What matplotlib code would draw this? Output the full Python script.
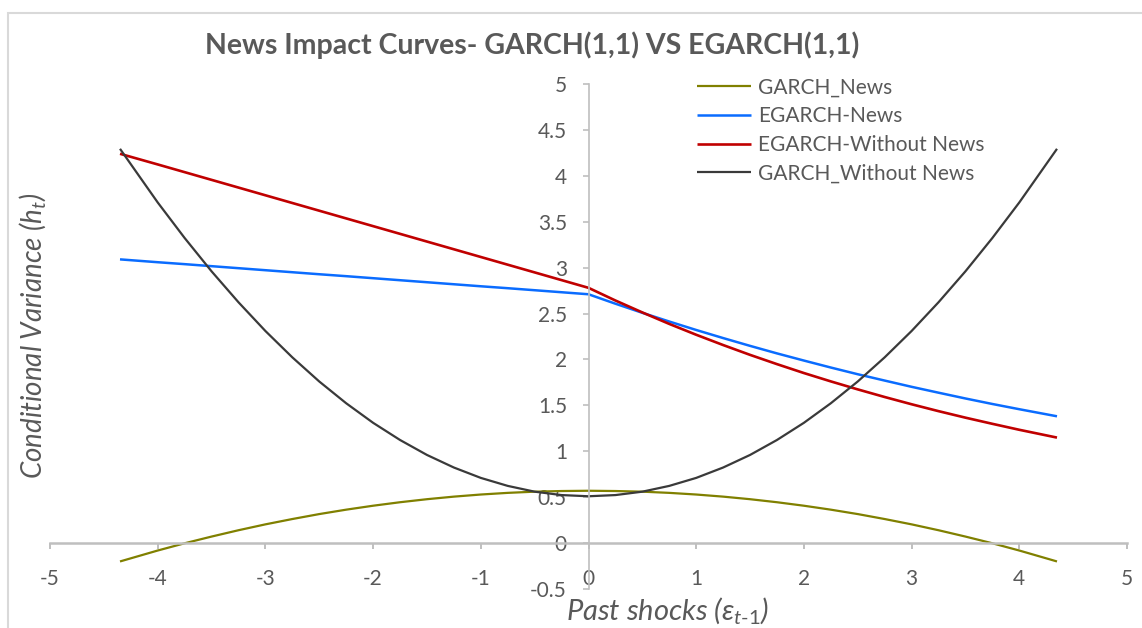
import numpy as np
import matplotlib
matplotlib.use("Agg")
import matplotlib.pyplot as plt
from matplotlib.patches import Rectangle

# shock values (x) shared by all four curves
shocks = [-4.35, -4.0, -3.75, -3.5, -3.25, -3.0, -2.75, -2.5, -2.25, -2.0, -1.75,
          -1.5, -1.25, -1.0, -0.75, -0.5, -0.25, 0.0, 0.25, 0.5, 0.75, 1.0, 1.25,
          1.5, 1.75, 2.0, 2.25, 2.5, 2.75, 3.0, 3.25, 3.5, 3.75, 4.0, 4.35]

garch_news = [-0.200, -0.081, -0.002, 0.071, 0.140, 0.204, 0.262, 0.316, 0.364, 0.407,
              0.445, 0.478, 0.506, 0.529, 0.547, 0.560, 0.567, 0.570, 0.567, 0.560,
              0.547, 0.529, 0.506, 0.478, 0.445, 0.407, 0.364, 0.316, 0.262, 0.204,
              0.140, 0.071, -0.002, -0.081, -0.200]
egarch_news = [3.090, 3.059, 3.038, 3.016, 2.994, 2.972, 2.950, 2.928, 2.907, 2.885,
               2.863, 2.841, 2.819, 2.797, 2.776, 2.754, 2.732, 2.710, 2.607, 2.508,
               2.413, 2.321, 2.233, 2.148, 2.066, 1.988, 1.912, 1.839, 1.770, 1.702,
               1.638, 1.575, 1.515, 1.458, 1.381]
egarch_without = [4.240, 4.124, 4.040, 3.956, 3.872, 3.788, 3.704, 3.620, 3.536, 3.452,
                  3.368, 3.284, 3.200, 3.116, 3.032, 2.948, 2.864, 2.780, 2.642, 2.512,
                  2.387, 2.269, 2.157, 2.050, 1.949, 1.852, 1.761, 1.674, 1.591, 1.512,
                  1.437, 1.366, 1.299, 1.234, 1.149]
garch_without = [4.294, 3.710, 3.323, 2.960, 2.623, 2.310, 2.023, 1.760, 1.523, 1.310,
                 1.123, 0.960, 0.823, 0.710, 0.623, 0.560, 0.523, 0.510, 0.523, 0.560,
                 0.623, 0.710, 0.823, 0.960, 1.123, 1.310, 1.523, 1.760, 2.023, 2.310,
                 2.623, 2.960, 3.323, 3.710, 4.294]

series = [
    ("GARCH_News", garch_news, "#808000", 1.6),
    ("EGARCH-News", egarch_news, "#0A6CFF", 1.8),
    ("EGARCH-Without News", egarch_without, "#C00000", 1.9),
    ("GARCH_Without News", garch_without, "#3A3A3A", 1.6),
]

x_ticks = [-5, -4, -3, -2, -1, 0, 1, 2, 3, 4, 5]
y_ticks = [-0.5, 0, 0.5, 1, 1.5, 2, 2.5, 3, 3.5, 4, 4.5, 5]

plt.rcParams["font.family"] = ["Lato", "DejaVu Sans"]
plt.rcParams["mathtext.fontset"] = "custom"
plt.rcParams["mathtext.rm"] = "Lato"
plt.rcParams["mathtext.it"] = "Lato:italic"
plt.rcParams["mathtext.bf"] = "Lato:bold"

W, H = 1142, 628
text_col = "#595959"
axis_col = "#BFBFBF"

fig = plt.figure(figsize=(W / 100, H / 100), dpi=100)
ax = fig.add_axes([50 / W, 1 - 589 / H, (1127 - 50) / W, (589 - 84) / H])

for name, vals, col, lw in series:
    ax.plot(shocks, vals, color=col, lw=lw, label=name, solid_capstyle="butt")

ax.set_xlim(-5, 5)
ax.set_ylim(-0.5, 5)
ax.set_xticks(x_ticks)
ax.set_yticks(y_ticks)
ax.set_xticklabels([f"{t:g}" for t in x_ticks])
ax.set_yticklabels([f"{t:g}" for t in y_ticks])

for s in ["top", "right"]:
    ax.spines[s].set_visible(False)
ax.spines["left"].set_position(("data", 0))
ax.spines["bottom"].set_position(("data", 0))
ax.spines["left"].set_color(axis_col)
ax.spines["bottom"].set_color(axis_col)
ax.spines["left"].set_linewidth(1.2)
ax.spines["bottom"].set_linewidth(1.8)

ax.tick_params(axis="both", direction="out", length=4.5, color=axis_col,
               labelcolor=text_col, labelsize=15)
ax.tick_params(axis="x", pad=14, width=1.4)
ax.tick_params(axis="y", pad=11, width=1.2)
ax.patch.set_visible(False)

fig.text(532 / W, 1 - 45 / H, "News Impact Curves- GARCH(1,1) VS EGARCH(1,1)",
         ha="center", va="center", fontsize=20.5, fontweight="bold", color=text_col)
fig.text(668 / W, 1 - 626 / H, r"Past shocks ($\epsilon_{t\text{-}1}$)",
         ha="center", va="bottom", fontsize=21, style="italic", color=text_col)
fig.text(33 / W, 1 - 336 / H, r"Conditional Variance ($h_t$)", rotation=90,
         ha="center", va="center", fontsize=20, style="italic", color=text_col)

fig.legend(loc="upper left", bbox_to_anchor=(697 / W, 1 - 77.5 / H), frameon=False,
           fontsize=15, labelcolor=text_col, handlelength=2.6, handletextpad=0.35,
           labelspacing=0.42, borderpad=0, borderaxespad=0)

# outer chart border (partly cropped)
fig.patches.append(Rectangle((8 / W, -0.1), 1.2, 1 - 13 / H + 0.1, transform=fig.transFigure,
                             fill=False, edgecolor="#D9D9D9", lw=1.5))

fig.savefig("out.png", dpi=100)
